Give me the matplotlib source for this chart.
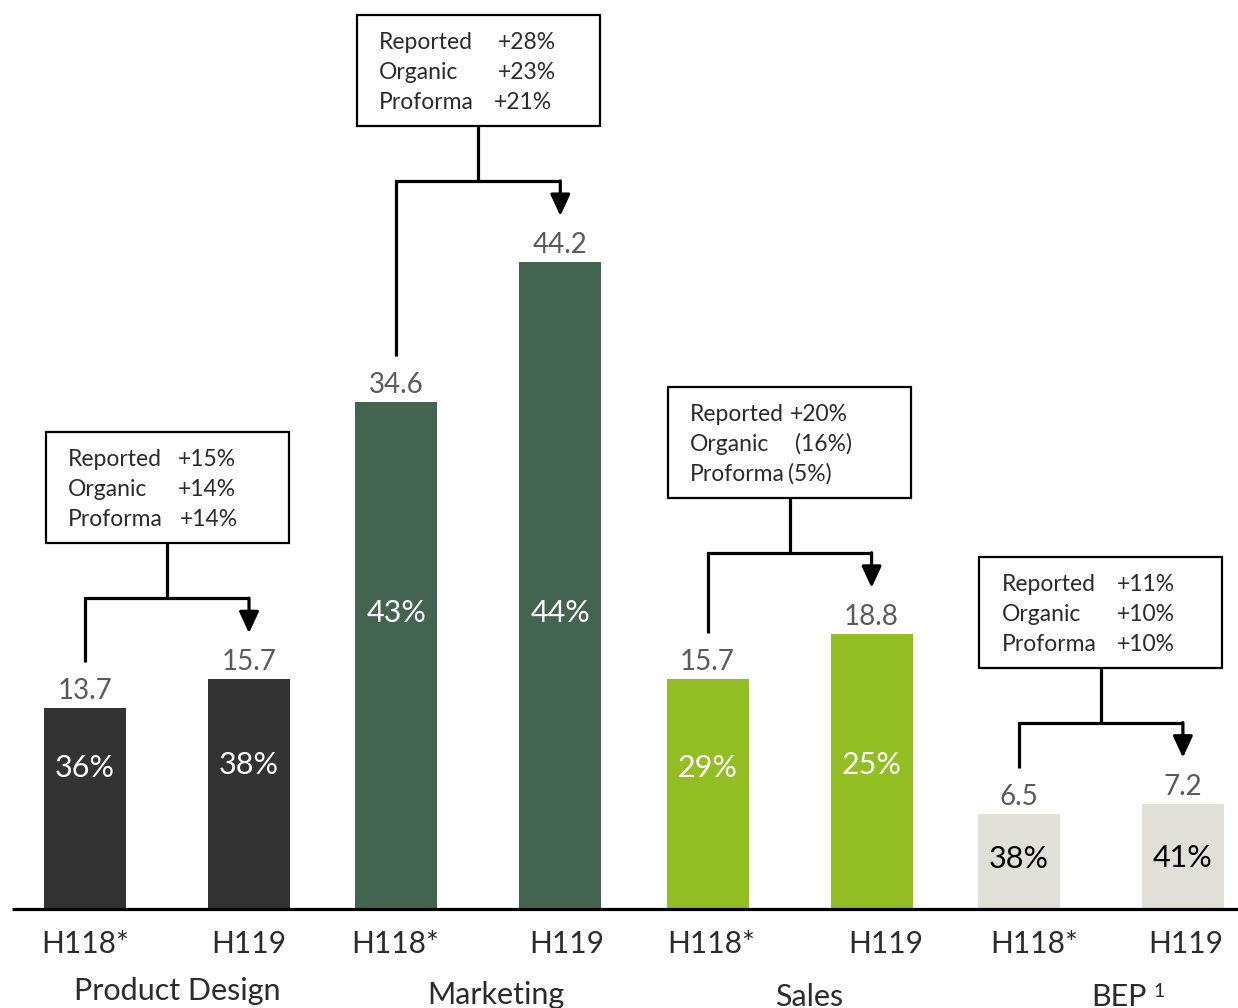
import numpy as np
import matplotlib.pyplot as plt

plt.rcParams['font.family'] = ['Lato', 'DejaVu Sans']

# segment data
segments = ['Product Design', 'Marketing', 'Sales', 'BEP']
periods = ['H118*', 'H119']
h118 = [13.7, 34.6, 15.7, 6.5]
h119 = [15.7, 44.2, 18.8, 7.2]
margin_h118 = ['36%', '43%', '29%', '38%']
margin_h119 = ['38%', '44%', '25%', '41%']
growth_names = ['Reported', 'Organic', 'Proforma']
growth = [['+15%', '+14%', '+14%'],
          ['+28%', '+23%', '+21%'],
          ['+20%', '(16%)', '(5%)'],
          ['+11%', '+10%', '+10%']]

colors = ['#333333', '#426451', '#93be23', '#e0e0d9']
pct_colors = ['white', 'white', 'white', 'black']
text_color = '#2b2b2b'

# layout (x in pixel-like units, y in value units)
W, H = 1238, 1008
base_px = 909
px_per_unit = 14.64
first_x, group_step, pair_gap, bar_w = 85, 311.3, 164, 82
pct_base = [[9.0, 9.2], [19.6, 19.6], [9.0, 9.2], [2.8, 2.9]]
box_w, box_h = 243, 7.58
val_col = [[132, 132, 134], [141, 141, 137], [122, 127, 120], [137, 137, 137]]
tick_shift = [[0, 0], [-1, 6], [4, 14], [15, 3]]
cat_x = [177, 496, 809, 1119]
cat_base = [-6.2, -6.5, -6.65, -6.65]

fig = plt.figure(figsize=(W / 100, H / 100), dpi=100)
ax = fig.add_axes([0, 0, 1, 1])
ax.set_xlim(0, W)
ax.set_ylim(-(H - base_px) / px_per_unit, base_px / px_per_unit)
ax.axis('off')

u = 1 / px_per_unit  # one pixel in value units

for g, seg in enumerate(segments):
    xs = first_x + g * group_step + np.array([0, pair_gap])
    vals = [h118[g], h119[g]]
    ax.bar(xs, vals, width=bar_w, color=colors[g], linewidth=0)
    for i in range(2):
        ax.text(xs[i], vals[i] + 9 * u, f'{vals[i]:.1f}', ha='center', va='baseline',
                fontsize=20, color='#5a5a5a')
        pct = [margin_h118, margin_h119][i][g]
        ax.text(xs[i], pct_base[g][i], pct, ha='center', va='baseline',
                fontsize=22, color=pct_colors[g])
        ax.text(xs[i] + tick_shift[g][i], -44 * u, periods[i], ha='center', va='baseline',
                fontsize=21.5, color=text_color)

    # connector from growth box to both bars
    gap = 46 * u
    hy = max(vals) + 81 * u
    cx = xs.mean()
    box_bottom = hy + 55 * u
    ax.plot([xs[0], xs[0], xs[1]], [vals[0] + gap, hy, hy], color='black', lw=2.3,
            solid_joinstyle='miter', solid_capstyle='butt')
    ax.plot([cx, cx], [hy, box_bottom], color='black', lw=2.3, solid_capstyle='butt')
    ax.annotate('', xy=(xs[1], vals[1] + gap), xytext=(xs[1], hy),
                arrowprops=dict(arrowstyle='-|>,head_length=0.65,head_width=0.3',
                                mutation_scale=20, lw=2.3, color='black',
                                shrinkA=0, shrinkB=0))

    bx = cx - box_w / 2
    ax.add_patch(plt.Rectangle((bx, box_bottom), box_w, box_h, fill=False,
                               edgecolor='black', lw=1.6))
    for k, name in enumerate(growth_names):
        ly = box_bottom + box_h - (34 + 30 * k) * u
        ax.text(bx + 22, ly, name, ha='left', va='baseline', fontsize=16.5,
                color=text_color)
        ax.text(bx + val_col[g][k], ly, growth[g][k], ha='left', va='baseline',
                fontsize=16.5, color=text_color)

    ax.text(cat_x[g], cat_base[g], seg, ha='center', va='baseline', fontsize=22,
            color=text_color)
    if seg == 'BEP':
        ax.text(cat_x[g] + 40, cat_base[g] + 9 * u, '1', ha='center', va='baseline',
                fontsize=14, color=text_color)

# baseline
ax.plot([12, W], [0, 0], color='black', lw=2.3, solid_capstyle='butt')

fig.savefig('out.png', dpi=100, facecolor='white')
